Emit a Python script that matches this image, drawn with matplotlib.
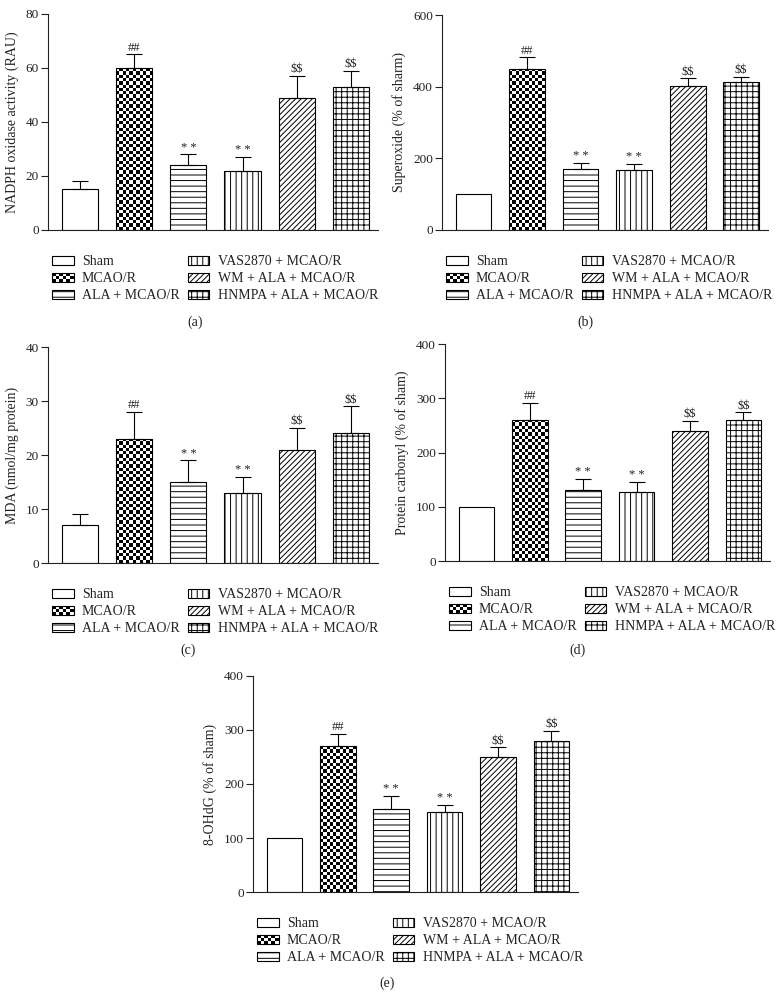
import numpy as np
import matplotlib
matplotlib.use('Agg')
import matplotlib.pyplot as plt
from matplotlib.patches import Rectangle
from matplotlib.legend_handler import HandlerBase

plt.rcParams['font.family'] = ['Liberation Serif', 'DejaVu Serif']
plt.rcParams['hatch.linewidth'] = 0.7

groups = ['Sham', 'MCAO/R', 'ALA + MCAO/R', 'VAS2870 + MCAO/R',
          'WM + ALA + MCAO/R', 'HNMPA + ALA + MCAO/R']
marks = ['', '##', '* *', '* *', '$$', '$$']

nadph_mean = [15, 60, 24, 22, 49, 53]
nadph_err = [3, 5, 4, 5, 8, 6]
superoxide_mean = [100, 450, 170, 167, 401, 412]
superoxide_err = [0, 32, 18, 18, 22, 16]
mda_mean = [7, 23, 15, 13, 21, 24]
mda_err = [2, 5, 4, 3, 4, 5]
carbonyl_mean = [100, 260, 130, 128, 240, 260]
carbonyl_err = [0, 31, 22, 18, 18, 14]
ohdg_mean = [100, 270, 153, 148, 250, 280]
ohdg_err = [0, 23, 25, 14, 18, 19]

hatches = [None, 'checker', '---', '|||', '//////', '+++']

W, H = 779, 997
fig = plt.figure(figsize=(W / 100, H / 100), dpi=100)
INK = '#222222'


def axes_at(l, t, r, b):
    return fig.add_axes([l / W, 1 - b / H, (r - l) / W, (b - t) / H])


class CheckerHandler(HandlerBase):
    # checkerboard swatch for the legend
    def create_artists(self, legend, orig_handle, xdescent, ydescent,
                       width, height, fontsize, trans):
        nc = max(1, int(round(width / 2.4)))
        nr = max(1, int(round(height / 2.4)))
        cw, ch = width / nc, height / nr
        arts = []
        for i in range(nr):
            for j in range(nc):
                if (i + j) % 2 == 0:
                    arts.append(Rectangle((-xdescent + j * cw, -ydescent + i * ch), cw, ch,
                                          facecolor='black', edgecolor='none', transform=trans))
        arts.append(Rectangle((-xdescent, -ydescent), width, height, facecolor='none',
                              edgecolor='black', lw=0.8, transform=trans))
        return arts


def checker_fill(ax, patch):
    x0, y0 = patch.get_x(), patch.get_y()
    w, h = patch.get_width(), patch.get_height()
    (p0x, p0y), (p1x, p1y) = ax.transData.transform([(x0, y0), (x0 + w, y0 + h)])
    nc = max(1, int(round((p1x - p0x) / 3.3)))
    nr = max(1, int(round((p1y - p0y) / 3.3)))
    grid = np.indices((nr, nc)).sum(axis=0) % 2
    im = ax.imshow(grid, cmap='gray_r', vmin=0, vmax=1, extent=(x0, x0 + w, y0, y0 + h),
                   origin='lower', aspect='auto', interpolation='nearest', zorder=1.5)
    im.set_clip_path(patch)
    patch.set_facecolor('none')
    patch.set_zorder(2)


def panel(box, means, errs, ymax, ystep, ylabel, caption, cap_xy):
    ax = axes_at(*box)
    x = np.arange(len(groups))
    ax.set_xlim(-0.59, 5.5)
    ax.set_ylim(0, ymax)
    patches = []
    checker_patch = None
    for i in range(len(groups)):
        hatch = hatches[i] if hatches[i] != 'checker' else None
        b = ax.bar(x[i], means[i], width=0.667, color='white', edgecolor='black',
                   linewidth=0.8, hatch=hatch, zorder=1, label=groups[i])
        p = b.patches[0]
        if hatches[i] == 'checker':
            checker_fill(ax, p)
            checker_patch = p
        patches.append(p)
    m = np.array(means, float)
    e = np.array(errs, float)
    keep = e > 0
    ax.errorbar(x[keep], m[keep], yerr=[np.zeros(keep.sum()), e[keep]], fmt='none',
                ecolor='black', elinewidth=0.8, capsize=6, capthick=0.8, zorder=3)
    for i in range(len(groups)):
        if marks[i]:
            ax.annotate(marks[i], (x[i], m[i] + e[i]), xytext=(0, 0.5), textcoords='offset points',
                        ha='center', va='bottom', fontsize=9, color=INK, parse_math=False)
    ax.set_xlim(-0.59, 5.5)
    ax.set_ylim(0, ymax)
    ax.set_yticks(np.arange(0, ymax + 1, ystep))
    ax.set_xticks([])
    for s in ['top', 'right']:
        ax.spines[s].set_visible(False)
    for s in ['left', 'bottom']:
        ax.spines[s].set_color(INK)
        ax.spines[s].set_linewidth(0.8)
    ax.tick_params(axis='y', direction='out', length=5, width=0.8, color=INK,
                   labelsize=9.5, labelcolor=INK, pad=1.5)
    ax.set_ylabel(ylabel, fontsize=10, color=INK, labelpad=5)

    l, t, r, b = box
    leg = ax.legend(handles=patches, labels=groups, ncol=2, frameon=False,
                    loc='upper left', bbox_to_anchor=((l + 4) / W, 1 - (b + 25) / H),
                    bbox_transform=fig.transFigure, borderpad=0, borderaxespad=0,
                    fontsize=10, handlelength=1.55, handleheight=0.6, handletextpad=0.6,
                    columnspacing=0.6, labelspacing=0.3,
                    handler_map={checker_patch: CheckerHandler()})
    for txt in leg.get_texts():
        txt.set_color(INK)
    fig.text(cap_xy[0] / W, 1 - cap_xy[1] / H, caption, ha='center', va='center',
             fontsize=10, color=INK)
    return ax


panel((48, 14, 378, 230), nadph_mean, nadph_err, 80, 20,
      'NADPH oxidase activity (RAU)', '(a)', (195, 322))
panel((442, 15, 768, 230), superoxide_mean, superoxide_err, 600, 200,
      'Superoxide (% of sharm)', '(b)', (585, 322))
panel((48, 347, 378, 563), mda_mean, mda_err, 40, 10,
      'MDA (nmol/mg protein)', '(c)', (188, 650))
panel((445, 344, 770, 561), carbonyl_mean, carbonyl_err, 400, 100,
      'Protein carbonyl (% of sham)', '(d)', (577, 650))
panel((253, 676, 578, 892), ohdg_mean, ohdg_err, 400, 100,
      '8-OHdG (% of sham)', '(e)', (387, 983))

fig.savefig('out.png', dpi=100)
